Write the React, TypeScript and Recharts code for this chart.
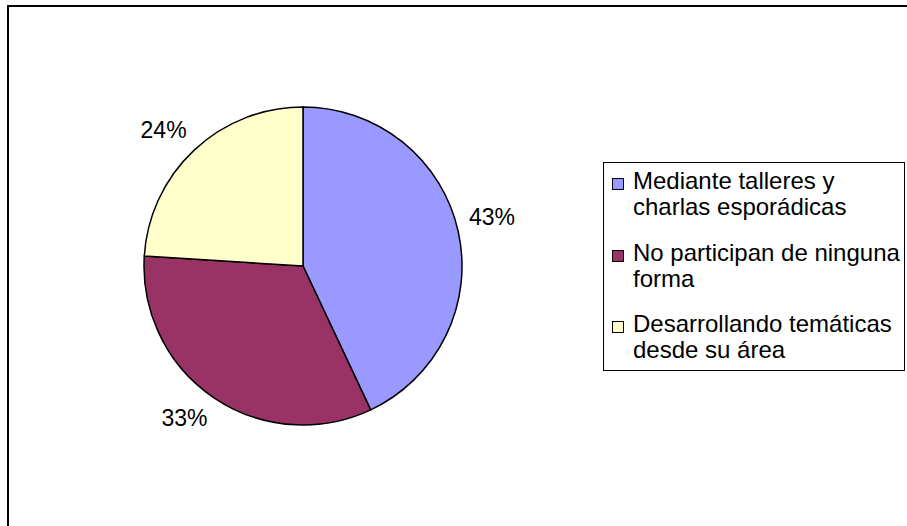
import React from 'react';
import { PieChart, Pie, Cell, Legend } from 'recharts';

const categories = [
  'Mediante talleres y charlas esporádicas',
  'No participan de ninguna forma',
  'Desarrollando temáticas desde su área',
];
const values = [43, 33, 24];
const colors = ['#9999FF', '#993366', '#FFFFCC'];

const data = categories.map((name, i) => ({ name, value: values[i] }));

const FONT = '"Liberation Sans", Arial, sans-serif';
const RAD = Math.PI / 180;

const renderLabel = (props: any) => {
  const { cx, cy, midAngle, outerRadius, percent } = props;
  const R = outerRadius + 11;
  const dx = Math.cos(-midAngle * RAD);
  const dy = Math.sin(-midAngle * RAD);
  const px = cx + R * dx;
  const py = cy + R * dy;
  const y = py + (dy < 0 ? -12 : 11);
  return (
    <text
      x={px}
      y={y}
      textAnchor={dx >= 0 ? 'start' : 'end'}
      dominantBaseline="central"
      fontFamily={FONT}
      fontSize={23}
      fill="#000"
    >
      {Math.round(percent * 100)}%
    </text>
  );
};

const renderLegend = (props: any) => {
  const payload = (props && props.payload) || [];
  const items = categories.map((name, i) => {
    const p = payload.find((e: any) => e.value === name);
    return { name, color: (p && p.color) || colors[i] };
  });
  return (
    <div
      style={{
        boxSizing: 'border-box',
        width: 302,
        height: 209,
        border: '1px solid #000',
        padding: '5px 0 0 8px',
        background: '#fff',
      }}
    >
      {items.map((it, i) => (
        <div
          key={it.name}
          style={{
            display: 'flex',
            alignItems: 'flex-start',
            marginBottom: i < items.length - 1 ? 19.5 : 0,
          }}
        >
          <div
            style={{
              boxSizing: 'border-box',
              width: 12,
              height: 12,
              marginTop: 10,
              marginRight: 9,
              border: '1px solid #000',
              background: it.color,
              flex: '0 0 auto',
            }}
          />
          <div
            style={{
              fontFamily: FONT,
              fontSize: 24,
              lineHeight: '26px',
              color: '#000',
              width: 271,
              textAlign: 'left',
            }}
          >
            {it.name}
          </div>
        </div>
      ))}
    </div>
  );
};

export default function App() {
  return (
    <div
      style={{
        position: 'absolute',
        left: 0,
        top: 0,
        width: 907,
        height: 526,
        overflow: 'hidden',
        background: '#fff',
      }}
    >
      <div
        style={{
          position: 'absolute',
          left: 7,
          top: 5,
          width: 1000,
          height: 1000,
          border: '2px solid #000',
        }}
      />
      <div style={{ position: 'absolute', left: 0, top: 0 }}>
        <PieChart width={907} height={526} margin={{ top: 0, right: 0, bottom: 0, left: 0 }}>
          <Pie
            data={data}
            dataKey="value"
            nameKey="name"
            cx={303}
            cy={266}
            outerRadius={159}
            startAngle={90}
            endAngle={-270}
            stroke="#000"
            strokeWidth={1.5}
            label={renderLabel}
            labelLine={false}
            isAnimationActive={false}
          >
            {data.map((d, i) => (
              <Cell key={d.name} fill={colors[i]} />
            ))}
          </Pie>
          <Legend
            content={renderLegend}
            wrapperStyle={{ position: 'absolute', left: 603, top: 162, width: 302, height: 209 }}
          />
        </PieChart>
      </div>
    </div>
  );
}
